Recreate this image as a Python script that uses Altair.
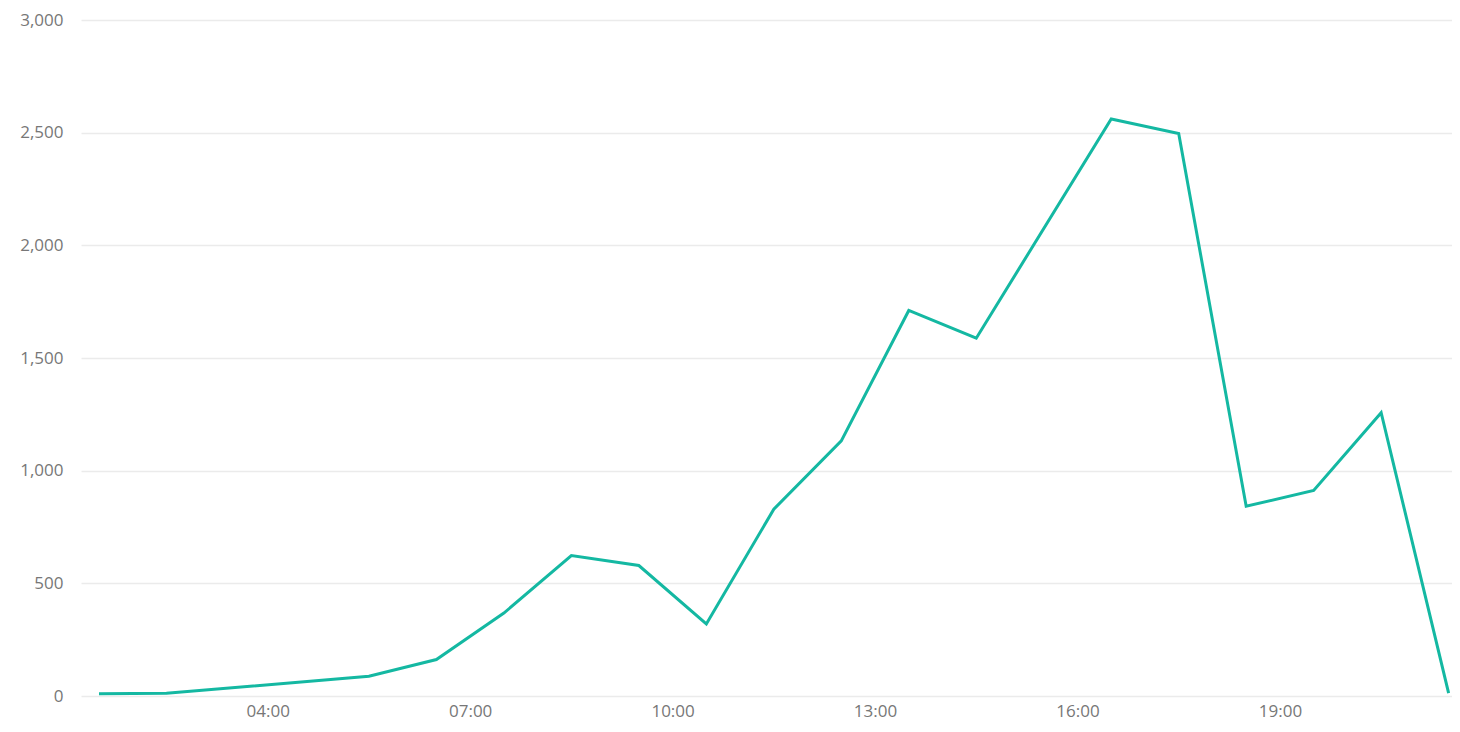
import altair as alt
import pandas as pd

times = ["01:30", "02:30", "05:30", "06:30", "07:30", "08:30", "09:30", "10:30",
         "11:30", "12:30", "13:30", "14:30", "16:30", "17:30", "18:30", "19:30",
         "20:30", "21:30"]
values = [10, 12, 88, 162, 368, 623, 579, 320, 829, 1132, 1711, 1588, 2561,
          2496, 842, 912, 1257, 13]
x_ticks = ["04:00", "07:00", "10:00", "13:00", "16:00", "19:00"]
y_ticks = [0, 500, 1000, 1500, 2000, 2500, 3000]


def dt(hm):
    h, m = hm.split(":")
    return alt.DateTime(year=2024, month=1, date=1, hours=int(h), minutes=int(m))


df = pd.DataFrame({"t": ["2024-01-01T" + t + ":00" for t in times], "v": values})

chart = alt.Chart(df).mark_line(color="#14b8a2", strokeWidth=3).encode(
    x=alt.X("t:T",
            scale=alt.Scale(domain=[dt("01:14"), dt("21:33")]),
            axis=alt.Axis(values=[dt(t) for t in x_ticks], format="%H:%M",
                          title=None, grid=False, domain=False, ticks=False,
                          labelPadding=7, labelFontSize=17, labelColor="#777777",
                          labelFont="Open Sans")),
    y=alt.Y("v:Q",
            scale=alt.Scale(domain=[0, 3000], nice=False),
            axis=alt.Axis(values=y_ticks, format=",d", title=None, domain=False,
                          ticks=False, gridColor="#ebebeb", gridWidth=1.5,
                          labelPadding=18, labelFontSize=17, labelColor="#777777",
                          labelFont="Open Sans")),
).properties(
    width=1371, height=676,
    autosize=alt.AutoSizeParams(type="none"),
    padding={"left": 73, "top": 12, "right": 0, "bottom": 28},
).configure_view(stroke=None)

chart.save("out.html", embed_options={"renderer": "svg", "actions": False})
